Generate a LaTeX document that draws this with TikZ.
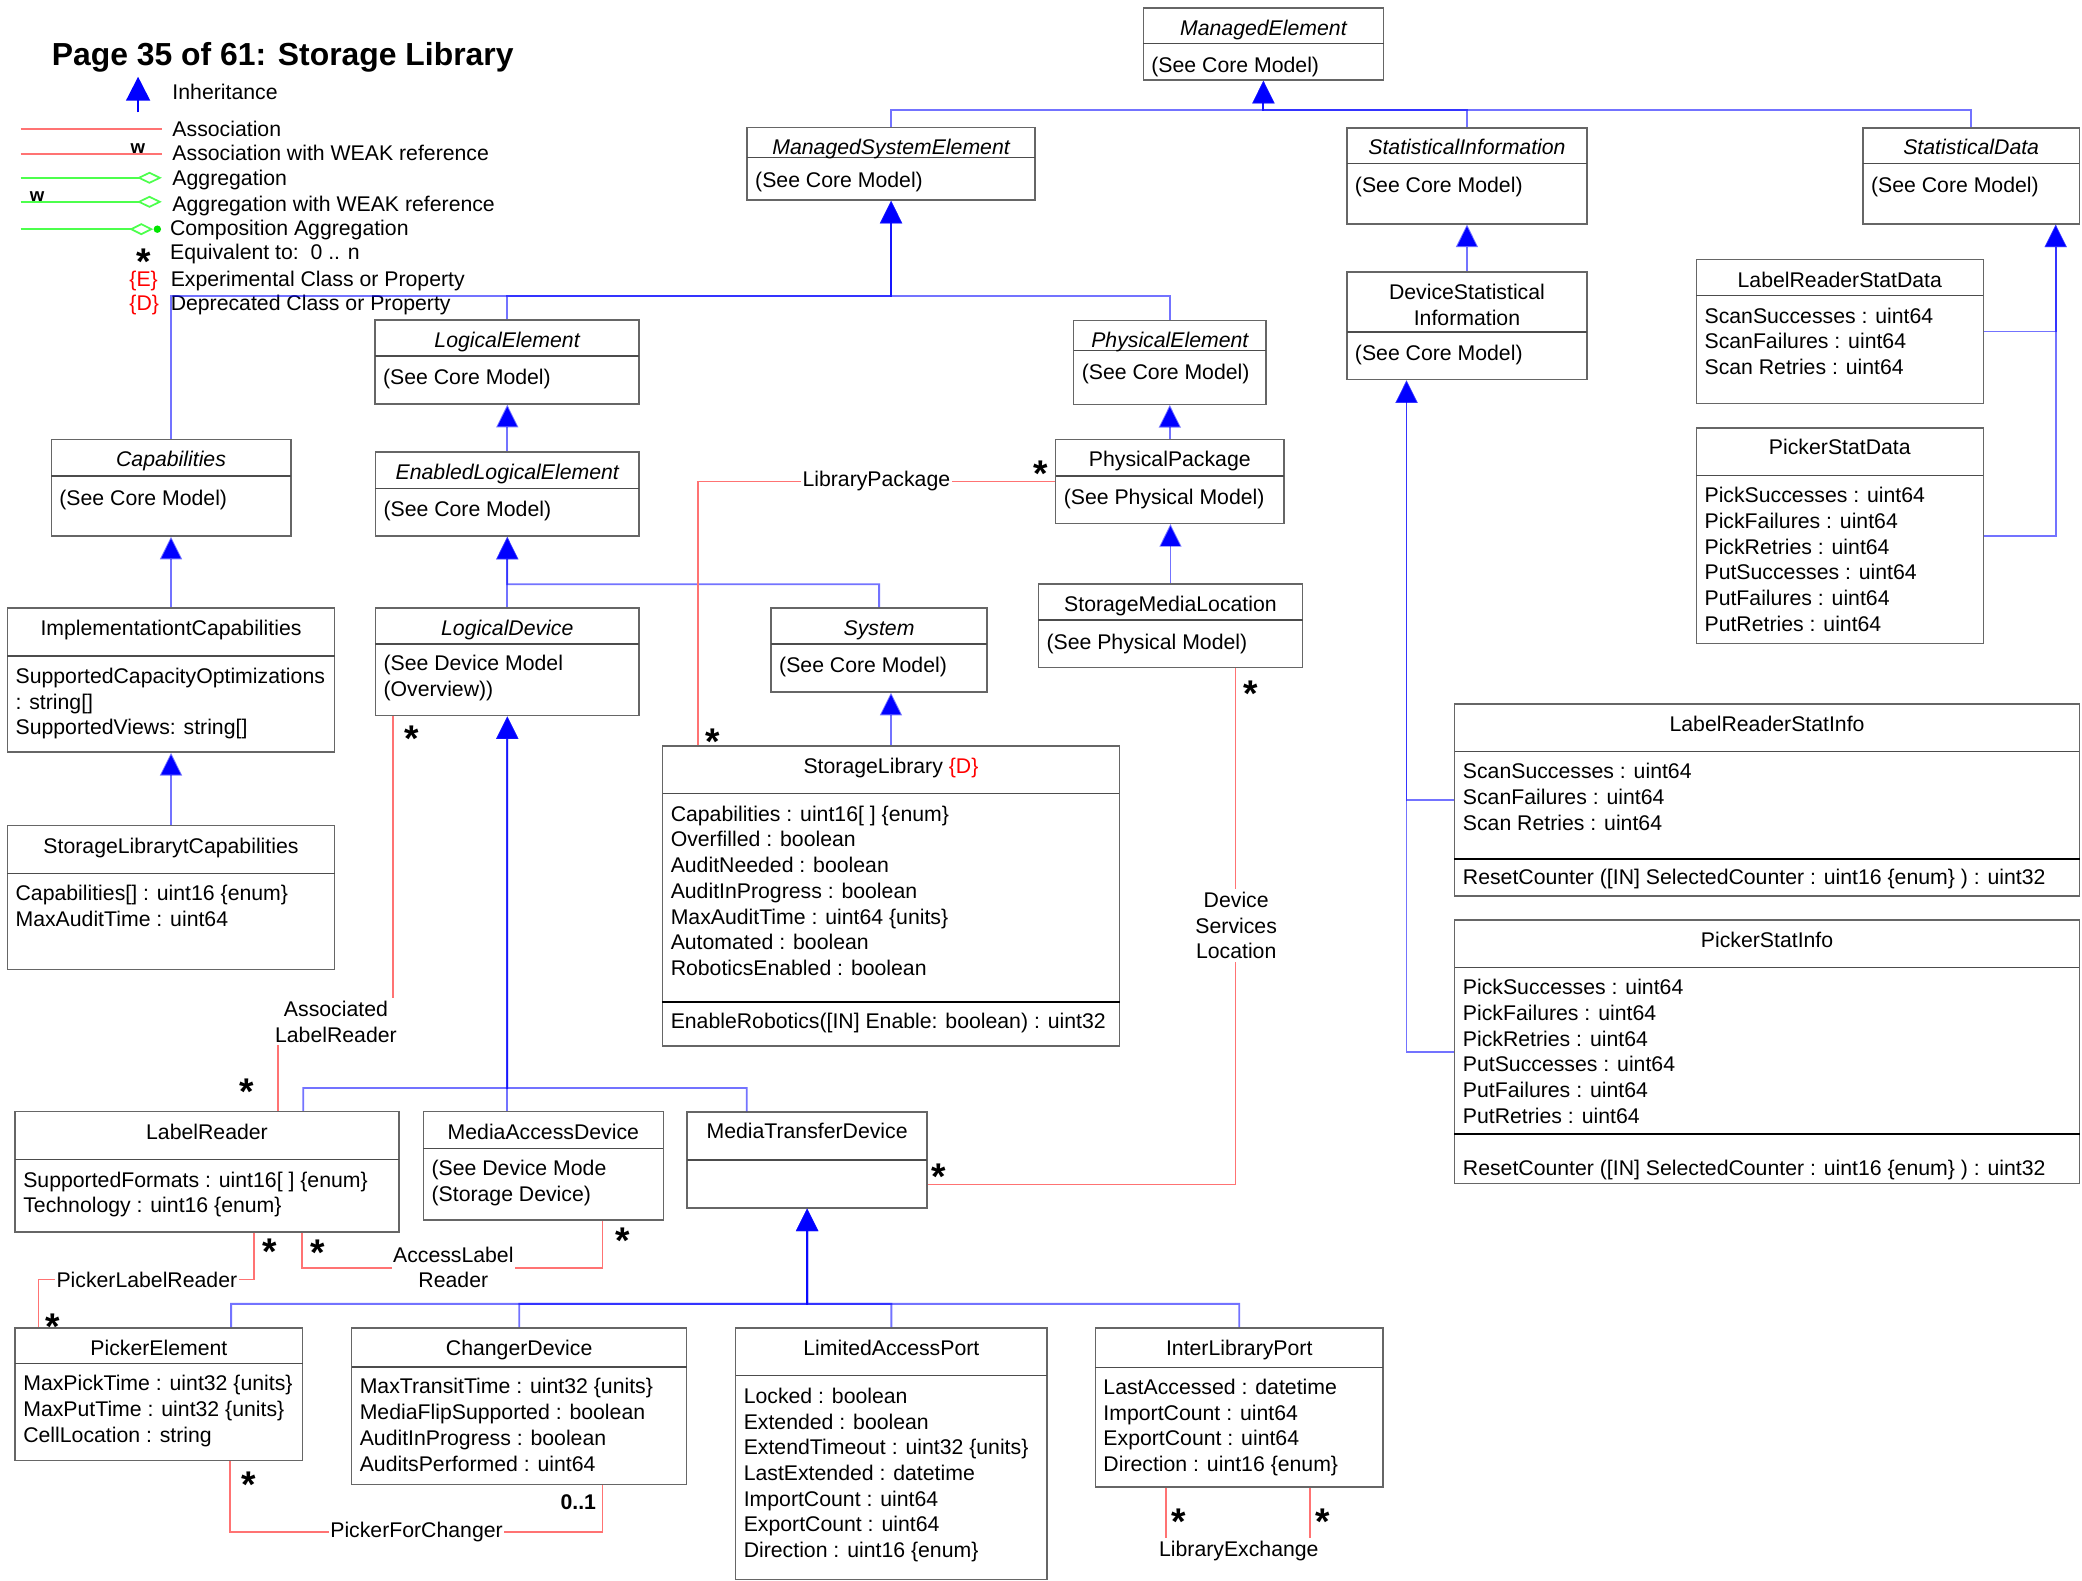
\documentclass[tikz,border=0pt]{standalone}
\usepackage{fontspec}
\setmainfont{Liberation Sans}
\usetikzlibrary{arrows.meta,fit,calc}
\newcommand{\uml}{\fontsize{16}{19.35}\selectfont}
\definecolor{boxgray}{gray}{0.4}
\tikzset{
  cls/.style   ={draw=boxgray,line width=1.1pt,inner sep=0pt},
  sep/.style   ={draw=black!70,line width=1.1pt},
  msep/.style  ={draw=black,line width=1.6pt},
  ttl/.style   ={font=\uml,anchor=base,inner sep=0pt},
  attrs/.style ={font=\uml,align=left,anchor=north west,inner sep=0pt,
                 execute at begin node=\rule{0pt}{13pt}},
  inh/.style   ={draw=blue,draw opacity=.55,line width=1.4pt,
                 -{Triangle[length=17pt,width=16.5pt]}},
  assoc/.style ={draw=red!55,line width=1.3pt},
  agg/.style   ={draw=green!70,line width=1.3pt},
  lbl/.style   ={font=\uml,fill=white,align=center,inner xsep=1pt,inner ysep=2pt},
  mult/.style  ={font=\bfseries\fontsize{28}{28}\selectfont,inner sep=0pt,yshift=-5.9pt},
  legtxt/.style={font=\uml,anchor=base west,inner sep=0pt},
}
\newcommand{\umlclass}[8]{%
  \node[cls,fit={(#2,#3) (#4,#5)}] (#1) {};
  \draw[sep] (#2,#6) -- (#4,#6);
  \node[ttl] (#1-n) at ($(#2,#7)!.5!(#4,#7)+(0,5.5)$) {#8};}
\newcommand{\umlattrs}[3]{%
  \node[attrs] (#1-a) at ($(#1.west |- 0,#2)+(6.5,-6.5)$) {#3};}
\newcommand{\umlop}[4]{%
  \draw[msep] (#1.west |- 0,#2) -- (#1.east |- 0,#2);
  \node[attrs] (#1-o) at ($(#1.west |- 0,#3)+(6.5,-6.5)$) {#4};}

\begin{document}
\begin{tikzpicture}[x=1pt,y=-1pt]
\useasboundingbox (0,0) rectangle (1568,1190);

% legend
\node[font=\bfseries\fontsize{24}{24}\selectfont,anchor=base west,inner sep=0pt] (title) at (38.9,49.6) {Page 35 of 61: Storage Library};
\draw[blue,line width=1.4pt,-{Triangle[length=18pt,width=18pt]}] (104,84.7) -- (104,57.8);
\node[legtxt] (lgInh) at (129.7,75.3) {Inheritance};
\draw[assoc] (15.6,97.2) -- (121.9,97.2);
\node[legtxt] (lgAs) at (129.7,103) {Association};
\draw[assoc] (15.6,115.8) -- (121.9,115.8);
\node[font=\bfseries\fontsize{14}{14}\selectfont,inner sep=0pt] (lgW1) at (103.8,111.8) {w};
\node[legtxt] (lgAsW) at (129.7,121.1) {Association with WEAK reference};
\draw[agg,-{Diamond[open,length=18.7pt,width=9pt]}] (15.6,133.9) -- (121.9,133.9);
\node[legtxt] (lgAg) at (129.7,139.4) {Aggregation};
\draw[agg,-{Diamond[open,length=18.7pt,width=9pt]}] (15.6,152) -- (121.9,152);
\node[font=\bfseries\fontsize{14}{14}\selectfont,inner sep=0pt] (lgW2) at (28,148.2) {w};
\node[legtxt] (lgAgW) at (129.7,159) {Aggregation with WEAK reference};
\draw[agg,-{Diamond[open,length=18pt,width=9pt]}] (15.6,172.6) -- (115.4,172.6);
\fill[green!90!black] (118.5,172.6) circle (2.8);
\node[legtxt] (lgCo) at (127.9,177.6) {Composition Aggregation};
\node[mult] (lgStar) at (108,191) {*};
\node[legtxt] (lgEq) at (127.9,195.7) {Equivalent to:\ \ 0 .. n};
\node[legtxt,text=red] (lgE) at (97.3,216) {\{E\}};
\node[legtxt] (lgEx) at (128.4,216) {Experimental Class or Property};
\node[legtxt,text=red] (lgD) at (97.3,234.1) {\{D\}};
\node[legtxt] (lgDe) at (128.4,234.1) {Deprecated Class or Property};

% classes
\umlclass{ME}{861}{6}{1042}{60.3}{32.9}{20.9}{\itshape ManagedElement}
\umlattrs{ME}{48.2}{(See Core Model)}
\umlclass{MSE}{562.6}{96.2}{779.6}{150.7}{118.8}{110.5}{\itshape ManagedSystemElement}
\umlattrs{MSE}{134.4}{(See Core Model)}
\umlclass{SI}{1014.3}{96.3}{1195.3}{168.6}{123.2}{111}{\itshape StatisticalInformation}
\umlattrs{SI}{138.5}{(See Core Model)}
\umlclass{SD}{1403}{96.3}{1566}{168.6}{123.2}{111}{\itshape StatisticalData}
\umlattrs{SD}{138.5}{(See Core Model)}
\umlclass{DSI}{1014.3}{204.7}{1195.3}{285.9}{250.1}{229.5}{}
\node[font=\uml,align=center,inner sep=0pt] (DSI-t) at (1104.8,229.5) {DeviceStatistical\\Information};
\umlattrs{DSI}{264.9}{(See Core Model)}
\umlclass{LRSD}{1277.6}{195.5}{1493.6}{303.9}{222.7}{211}{LabelReaderStatData}
\umlattrs{LRSD}{238}{ScanSuccesses : uint64\\ScanFailures : uint64\\Scan Retries : uint64}
\umlclass{PSD}{1277.6}{322.2}{1493.6}{484.7}{358.2}{336.7}{PickerStatData}
\umlattrs{PSD}{373.3}{PickSuccesses : uint64\\PickFailures : uint64\\PickRetries : uint64\\PutSuccesses : uint64\\PutFailures : uint64\\PutRetries : uint64}
\umlclass{LE}{282.4}{241}{481.4}{304.3}{268.1}{256.1}{\itshape LogicalElement}
\umlattrs{LE}{283.2}{(See Core Model)}
\umlclass{PE}{808.6}{241.2}{953.4}{304.5}{263.8}{256.3}{\itshape PhysicalElement}
\umlattrs{PE}{278.9}{(See Core Model)}
\umlclass{Cap}{38.6}{331}{219}{403.7}{358.5}{346}{\itshape Capabilities}
\umlattrs{Cap}{373.8}{(See Core Model)}
\umlclass{ELE}{282.7}{340.3}{481.4}{403.7}{367.7}{355.7}{\itshape EnabledLogicalElement}
\umlattrs{ELE}{382.5}{(See Core Model)}
\umlclass{PP}{795}{331}{967}{394.2}{358.5}{346}{PhysicalPackage}
\umlattrs{PP}{373}{(See Physical Model)}
\umlclass{IC}{5.6}{457.8}{252}{566.5}{494.1}{473.2}{ImplementationtCapabilities}
\umlattrs{IC}{509.5}{SupportedCapacityOptimizations\\: string[]\\SupportedViews: string[]}
\umlclass{LD}{282.7}{457.8}{481.4}{539}{484.9}{473}{\itshape LogicalDevice}
\umlattrs{LD}{500}{(See Device Model\\(Overview))}
\umlclass{Sys}{580.7}{457.8}{743.4}{521.2}{484.9}{473}{\itshape System}
\umlattrs{Sys}{500}{(See Core Model)}
\umlclass{SML}{782}{439.7}{981}{502.8}{467}{455.4}{StorageMediaLocation}
\umlattrs{SML}{482.5}{(See Physical Model)}
\umlclass{SL}{499}{561.8}{843}{787.7}{597.8}{577.2}{StorageLibrary \textcolor{red}{\{D\}}}
\umlattrs{SL}{613.2}{Capabilities : uint16[ ] \{enum\}\\Overfilled : boolean\\AuditNeeded : boolean\\AuditInProgress : boolean\\MaxAuditTime : uint64 \{units\}\\Automated : boolean\\RoboticsEnabled : boolean}
\umlop{SL}{754.8}{767.7}{EnableRobotics([IN] Enable: boolean) : uint32}
\umlclass{SLC}{5.6}{621.8}{252}{730.1}{657.8}{637.2}{StorageLibrarytCapabilities}
\umlattrs{SLC}{673.2}{Capabilities[] : uint16 \{enum\}\\MaxAuditTime : uint64}
\umlclass{LRSI}{1095.6}{530.2}{1566}{674.7}{566.1}{545.5}{LabelReaderStatInfo}
\umlattrs{LRSI}{581.2}{ScanSuccesses : uint64\\ScanFailures : uint64\\Scan Retries : uint64}
\umlop{LRSI}{647}{659.1}{ResetCounter ([IN] SelectedCounter : uint16 \{enum\} ) : uint32}
\umlclass{PSI}{1095.6}{693}{1566}{891.5}{728.7}{708}{PickerStatInfo}
\umlattrs{PSI}{743.8}{PickSuccesses : uint64\\PickFailures : uint64\\PickRetries : uint64\\PutSuccesses : uint64\\PutFailures : uint64\\PutRetries : uint64}
\umlop{PSI}{853.8}{878.9}{ResetCounter ([IN] SelectedCounter : uint16 \{enum\} ) : uint32}
\umlclass{LR}{11.4}{837.2}{300.4}{927.7}{873.2}{852.3}{LabelReader}
\umlattrs{LR}{888.8}{SupportedFormats : uint16[ ] \{enum\}\\Technology : uint16 \{enum\}}
\umlclass{MAD}{318.9}{837}{499.5}{918.9}{864.9}{852.3}{MediaAccessDevice}
\umlattrs{MAD}{880}{(See Device Mode\\(Storage Device)}
\umlclass{MTD}{517.4}{837.5}{698.3}{909.6}{873.7}{852}{MediaTransferDevice}
\umlclass{PkE}{11.4}{1000}{227.9}{1099.8}{1027}{1015}{PickerElement}
\umlattrs{PkE}{1042}{MaxPickTime : uint32 \{units\}\\MaxPutTime : uint32 \{units\}\\CellLocation : string}
\umlclass{CD}{264.8}{1000}{517.2}{1117.9}{1029.5}{1015}{ChangerDevice}
\umlattrs{CD}{1044.5}{MaxTransitTime : uint32 \{units\}\\MediaFlipSupported : boolean\\AuditInProgress : boolean\\AuditsPerformed : uint64}
\umlclass{LAP}{554}{1000}{788.6}{1189.4}{1036}{1015.7}{LimitedAccessPort}
\umlattrs{LAP}{1051.6}{Locked : boolean\\Extended : boolean\\ExtendTimeout : uint32 \{units\}\\LastExtended : datetime\\ImportCount : uint64\\ExportCount : uint64\\Direction : uint16 \{enum\}}
\umlclass{ILP}{824.9}{1000}{1041.7}{1120}{1030}{1015.7}{InterLibraryPort}
\umlattrs{ILP}{1045}{LastAccessed : datetime\\ImportCount : uint64\\ExportCount : uint64\\Direction : uint16 \{enum\}}

% inheritance
\coordinate (busME) at (951.5,82.9);
\draw[inh] (MSE.north) |- (busME) -- (ME.south);
\draw[inh] (SI.north) |- (busME) -- (ME.south);
\draw[inh] (SD.north) |- (busME) -- (ME.south);
\coordinate (busMSE) at (671.1,222.9);
\draw[inh] (Cap.north) |- (busMSE) -- (MSE.south);
\draw[inh] (LE.north) |- (busMSE) -- (MSE.south);
\draw[inh] (PE.north) |- (busMSE) -- (MSE.south);
\draw[inh] (ELE.north) -- (ELE.north |- LE.south);
\draw[inh] (PP.north) -- (PP.north |- PE.south);
\draw[inh] (IC.north) -- (IC.north |- Cap.south);
\draw[inh] (SLC.north) -- (IC.south);
\coordinate (busELE) at (382.05,440);
\draw[inh] (LD.north) -- (ELE.south);
\draw[inh] (Sys.north) |- (busELE) -- (ELE.south);
\draw[inh] (SML.north) -- (SML.north |- PP.south);
\draw[inh] (SL.north) -- (SL.north |- Sys.south);
\coordinate (busLD) at (382.05,819.4);
\draw[inh] ($(LR.north west)!.75!(LR.north east)$) |- (busLD) -- (LD.south);
\draw[inh] (MAD.north -| LD.south) -- (LD.south);
\draw[inh] ($(MTD.north west)!.25!(MTD.north east)$) |- (busLD) -- (LD.south);
\coordinate (busMTD) at (607.85,982);
\draw[inh] ($(PkE.north west)!.75!(PkE.north east)$) |- (busMTD) -- (MTD.south);
\draw[inh] (CD.north) |- (busMTD) -- (MTD.south);
\draw[inh] (LAP.north) |- (busMTD) -- (MTD.south);
\draw[inh] (ILP.north) |- (busMTD) -- (MTD.south);
\draw[inh] (DSI.north) -- (SI.south);
\coordinate (DSIt) at ($(DSI.south west)!.25!(DSI.south east)$);
\draw[inh] (LRSI.west) -| (DSIt);
\draw[inh] (PSI.west) -| (DSIt);
\coordinate (SDt) at ($(SD.south west)!.888!(SD.south east)$);
\draw[inh] (LRSD.east) -| (SDt);
\draw[inh] (PSD.east) -| (SDt);

% associations
\coordinate (lpA) at ($(SL.north west)+(27,0)$);
\draw[assoc] (lpA) |- (PP.west);
\node[lbl] (lpL) at (660,362.5) {LibraryPackage};
\node[mult] (lpM1) at (537,552.6) {*};
\node[mult] (lpM2) at (784,350.8) {*};
\coordinate (alA) at ($(LD.south west)+(14,0)$);
\coordinate (alB) at ($(LR.north west)+(198.3,0)$);
\draw[assoc] (alA) -- ++(0,230.4) -| (alB);
\node[lbl] (alL) at (253,769.4) {Associated\\LabelReader};
\node[mult] (alM1) at (309.8,550.1) {*};
\node[mult] (alM2) at (185.6,816.4) {*};
\coordinate (dsA) at ($(SML.south west)+(149,0)$);
\coordinate (dsB) at ($(MTD.south east)+(0,-18.1)$);
\draw[assoc] (dsA) |- (dsB);
\node[lbl] (dsL) at (931,697) {Device\\Services\\Location};
\node[mult] (dsM1) at (942,516.3) {*};
\node[mult] (dsM2) at (706.8,880) {*};
\coordinate (plA) at ($(LR.south west)+(180.6,0)$);
\coordinate (plB) at ($(PkE.north west)+(18.1,0)$);
\draw[assoc] (plA) -- ++(0,35.4) -| (plB);
\node[lbl] (plL) at (110.6,963.6) {PickerLabelReader};
\node[mult] (plM1) at (203.3,936.5) {*};
\node[mult] (plM2) at (39.8,993) {*};
\coordinate (arA) at ($(LR.south west)+(216.5,0)$);
\coordinate (arB) at ($(MAD.south west)+(135.4,0)$);
\draw[assoc] (arA) -- ++(0,26.6) -| (arB);
\node[lbl] (arL) at (341.4,954.5) {AccessLabel\\Reader};
\node[mult] (arM1) at (239.2,937.7) {*};
\node[mult] (arM2) at (469.2,928.4) {*};
\coordinate (pcA) at ($(PkE.south west)+(162.4,0)$);
\coordinate (pcB) at ($(CD.south west)+(189.5,0)$);
\draw[assoc] (pcA) -- ++(0,53.5) -| (pcB);
\node[lbl] (pcL) at (313.7,1153.8) {PickerForChanger};
\node[mult] (pcM1) at (187.3,1112.4) {*};
\node[font=\bfseries\uml,anchor=base,inner sep=0pt] (pcM2) at (435.5,1136.7) {0..1};
\coordinate (leA) at ($(ILP.south west)+(53.6,0)$);
\coordinate (leB) at ($(ILP.south west)+(162.1,0)$);
\draw[assoc] (leA) -- ++(0,47.5) -| (leB);
\node[lbl] (leL) at (933,1168) {LibraryExchange};
\node[mult] (leM1) at (888,1140) {*};
\node[mult] (leM2) at (996.5,1140) {*};
\end{tikzpicture}
\end{document}
